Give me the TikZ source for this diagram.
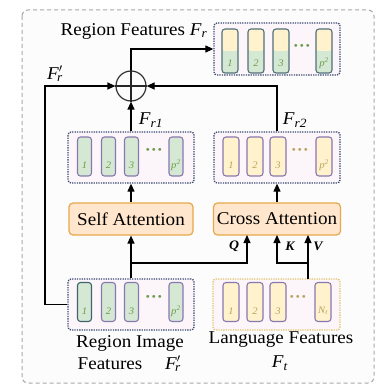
\documentclass[tikz,border=0pt]{standalone}
\usepackage{fontspec}
\setmainfont{Liberation Serif}[FakeStretch=1.06]
\usetikzlibrary{arrows.meta,calc}

\definecolor{framegray}{HTML}{A8A8A8}
\definecolor{framefill}{HTML}{FDFCFD}
\definecolor{navydot}{HTML}{3A4A70}
\definecolor{featfill}{HTML}{FCF6FA}
\definecolor{langdot}{HTML}{E2C46E}
\definecolor{langfill}{HTML}{FDF9F4}
\definecolor{greenf}{HTML}{D5E8D4}
\definecolor{yellowf}{HTML}{FFF2CC}
\definecolor{barpurple}{HTML}{8878B0}
\definecolor{barteal}{HTML}{3E6472}
\definecolor{bargray}{HTML}{50707A}
\definecolor{numgreen}{HTML}{6E9A4E}
\definecolor{numolive}{HTML}{B8A460}
\definecolor{attfill}{HTML}{FFE6CC}
\definecolor{attdraw}{HTML}{E6A84A}

% feature symbol with italic subscript, e.g. F_r
\newcommand\fsym[2]{\textit{F}\textsubscript{\textit{#2}}}
\newcommand\fprime[1]{\textit{F}$'$\kern-0.3em\textsubscript{\textit{#1}}}

\tikzset{
  lbl/.style={font=\fontsize{18}{20}\selectfont, inner sep=0pt},
  qkv/.style={font=\fontsize{13}{15}\selectfont\bfseries\itshape, inner sep=0pt},
  featbox/.style={draw=navydot, line width=1.3pt, dash pattern=on 1.3pt off 1.1pt,
    fill=featfill, rounded corners=3pt},
  langbox/.style={featbox, draw=langdot},
  barbase/.style={draw=barpurple, line width=1.1pt, rounded corners=3pt,
    minimum height=39pt, inner sep=0pt},
  greenbar/.style={barbase, fill=greenf, minimum width=14pt},
  yellowbar/.style={barbase, fill=yellowf, minimum width=16pt},
  mixbar/.style={barbase, draw=bargray, fill=greenf, minimum width=16pt, minimum height=44pt,
    path picture={\fill[yellowf] (path picture bounding box.north west)
      rectangle (path picture bounding box.east);}},
  numg/.style={font=\fontsize{10}{11}\selectfont\itshape, text=numgreen, inner sep=0pt},
  numy/.style={numg, text=numolive},
  dotsg/.style={font=\fontsize{17}{18}\selectfont\bfseries, text=numgreen, inner sep=0pt},
  dotsy/.style={dotsg, text=numolive},
  attbox/.style={draw=attdraw, line width=1.2pt, fill=attfill, rounded corners=4pt,
    minimum width=124pt, minimum height=32pt, font=\fontsize{18}{20}\selectfont},
  ar/.style={line width=1.2pt, -{Triangle[length=8pt,width=7pt]}},
  ln/.style={line width=1.2pt},
}

\begin{document}
\begin{tikzpicture}[x=1pt,y=-1pt]
\useasboundingbox (0,0) rectangle (378,385);
\fill[white] (0,0) rectangle (378,385);

% outer dashed frame
\draw[draw=framegray, fill=framefill, line width=1pt, dash pattern=on 4pt off 3pt,
  rounded corners=6pt] (22,10) rectangle (374,383);

% ---- output region features (top) ----
\node[featbox, minimum width=126pt, minimum height=52pt] (tb) at (277,49) {};
\foreach \x/\t [count=\i] in {230/1,256/2,281/3,324/{p\textsuperscript{2}}} {
  \node[mixbar] (tb\i) at (\x,51) {};
  \node[numg] (tbn\i) at (\x,63) {\t};
}
\node[dotsg] (tbd) at (302,48) {···};

% ---- self-attention output ----
\node[featbox, minimum width=126pt, minimum height=51pt] (so) at (131,157.5) {};
\foreach \x/\t [count=\i] in {84.5/1,108.5/2,131.5/3,176/{p\textsuperscript{2}}} {
  \node[greenbar] (sob\i) at (\x,156.5) {};
  \node[numg] (son\i) at (\x,165) {\t};
}
\node[dotsg] (sod) at (154,152) {···};

% ---- cross-attention output ----
\node[featbox, minimum width=126pt, minimum height=51pt] (co) at (277,157.5) {};
\foreach \x/\t [count=\i] in {231/1,255/2,278/3,324/{p\textsuperscript{2}}} {
  \node[yellowbar] (cob\i) at (\x,156.5) {};
  \node[numy] (con\i) at (\x,165) {\t};
}
\node[dotsy] (cod) at (300,152) {···};

% ---- attention blocks ----
\node[attbox] (sa) at (131,219) {Self Attention};
\node[attbox] (ca) at (277,219) {Cross Attention};

% ---- region image features (bottom left) ----
\node[featbox, minimum width=126pt, minimum height=51pt] (ri) at (131,304.5) {};
\foreach \x/\t/\c [count=\i] in {84.5/1/barteal,108.5/2/barpurple,131.5/3/barpurple,176/{p\textsuperscript{2}}/barpurple} {
  \node[greenbar, draw=\c] (rib\i) at (\x,302) {};
  \node[numg] (rin\i) at (\x,311) {\t};
}
\node[dotsg] (rid) at (154,299) {···};

% ---- language features (bottom right) ----
\node[langbox, minimum width=127pt, minimum height=51pt] (lf) at (276.5,304.5) {};
\foreach \x/\t [count=\i] in {231/1,255/2,278/3,323/{N\textsubscript{t}}} {
  \node[yellowbar] (lfb\i) at (\x,302) {};
  \node[numy] (lfn\i) at (\x,311) {\t};
}
\node[dotsy] (lfd) at (298,299) {···};

% ---- fusion node ----
\node[circle, draw=black!80, line width=1.2pt, minimum size=30pt, inner sep=0pt] (sum) at (131,86) {};
\draw[ln, black!85] (sum.north) -- (sum.south) (sum.west) -- (sum.east);

% ---- connectors ----
\coordinate (bendL) at (45,304.5);
\draw[ar] (ri.west) -- (bendL) |- (sum.west);
\draw[ar] (so.north) -- (sum.south);
\draw[ar] (co.north) |- (sum.east);
\draw[ar] (sum.north) |- (tb.west);
\draw[ar] (sa.north) -- (so.south);
\draw[ar] (ca.north) -- (co.south);
\draw[ar] (ri.north) -- (sa.south);

\coordinate (jq) at (131,263);
\coordinate (qin) at (247,235);
\coordinate (kin) at (277,235);
\coordinate (vin) at (308,235);
\coordinate (vout) at (308,279);
\draw[ar] (jq) -| (qin);
\draw[ar] (vout) -- (vin);
\draw[ar] (vout |- jq) -| (kin);

% ---- labels ----
\node[lbl] (tbt) at (134,31) {Region Features \fsym{F}{r}};
\node[lbl] (fpr) at (55,74) {\fprime{r}};
\node[lbl] (fr1) at (151,120) {\fsym{F}{r1}};
\node[lbl] (fr2) at (295,120) {\fsym{F}{r2}};
\node[qkv] (ql) at (234,246) {Q};
\node[qkv] (kl) at (290,246) {K};
\node[qkv] (vl) at (318,246) {V};
\node[lbl] (rit1) at (130,343) {Region Image};
\node[lbl] (rit2) at (110,364) {Features};
\node[lbl] (rit3) at (173,364) {\fprime{r}};
\node[lbl] (lft1) at (281,340) {Language Features};
\node[lbl] (lft2) at (280,363) {\fsym{F}{t}};
\end{tikzpicture}
\end{document}
